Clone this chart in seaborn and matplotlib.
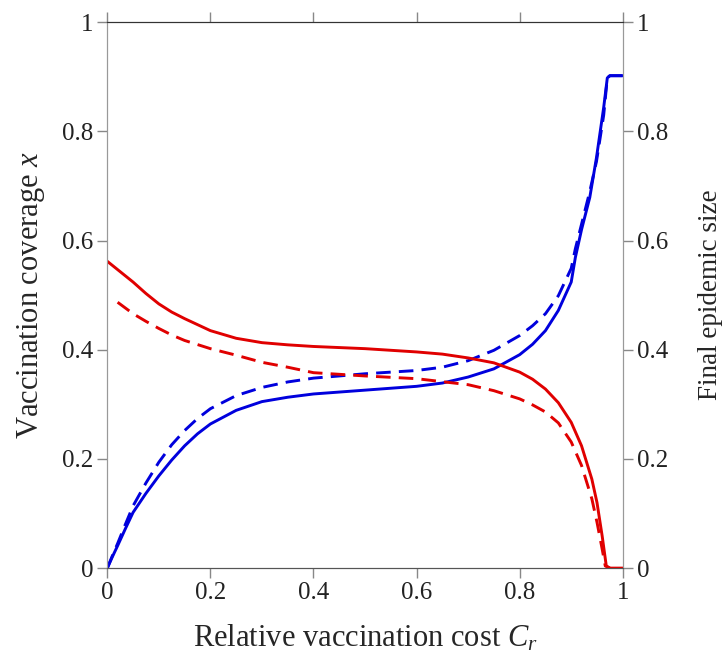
import numpy as np
import pandas as pd
import matplotlib
matplotlib.use("Agg")
import matplotlib.pyplot as plt
import seaborn as sns

# relative vaccination cost C_r (for the coverage curves)
cost = [0.0, 0.01, 0.02, 0.035, 0.05, 0.075, 0.1, 0.125, 0.15, 0.175, 0.2, 0.25, 0.3, 0.35,
        0.4, 0.5, 0.6, 0.65, 0.7, 0.75, 0.8, 0.825, 0.85, 0.875, 0.9, 0.908, 0.92, 0.936,
        0.949, 0.963, 0.97, 0.975, 1.0]

# vaccination coverage, solid and dashed
cov_solid = [0.0, 0.021, 0.041, 0.072, 0.102, 0.137, 0.169, 0.198, 0.224, 0.246, 0.264,
             0.289, 0.305, 0.313, 0.319, 0.326, 0.333, 0.339, 0.350, 0.365, 0.391, 0.410,
             0.435, 0.472, 0.524, 0.569, 0.620, 0.679, 0.752, 0.844, 0.898, 0.902, 0.902]
cov_dash = [0.0, 0.023, 0.045, 0.080, 0.114, 0.156, 0.194, 0.226, 0.252, 0.274, 0.292,
            0.316, 0.331, 0.341, 0.348, 0.356, 0.362, 0.368, 0.380, 0.399, 0.426, 0.444,
            0.466, 0.499, 0.549, 0.585, 0.630, 0.690, 0.745, 0.830, 0.898, 0.902, 0.902]

# final epidemic size, solid
size_cost = [0.0, 0.025, 0.05, 0.075, 0.1, 0.125, 0.15, 0.2, 0.25, 0.3, 0.35, 0.4, 0.5, 0.6,
             0.65, 0.7, 0.75, 0.8, 0.825, 0.85, 0.875, 0.9, 0.92, 0.94, 0.95, 0.96, 0.968,
             0.975, 1.0]
size_solid = [0.562, 0.543, 0.524, 0.503, 0.484, 0.469, 0.457, 0.435, 0.421, 0.413, 0.409,
              0.406, 0.402, 0.396, 0.392, 0.385, 0.376, 0.359, 0.346, 0.328, 0.303, 0.267,
              0.224, 0.163, 0.120, 0.059, 0.004, 0.0, 0.0]

# final epidemic size, dashed
dash_cost = [0.02, 0.05, 0.075, 0.1, 0.125, 0.15, 0.2, 0.25, 0.3, 0.35, 0.4, 0.5, 0.6, 0.7,
             0.75, 0.8, 0.825, 0.85, 0.875, 0.9, 0.92, 0.94, 0.95, 0.96, 0.966, 0.975]
size_dash = [0.487, 0.466, 0.452, 0.439, 0.427, 0.417, 0.402, 0.390, 0.377, 0.368, 0.358,
             0.352, 0.347, 0.336, 0.325, 0.310, 0.299, 0.286, 0.266, 0.231, 0.188, 0.127,
             0.084, 0.035, 0.004, 0.0]

sns.set_style("ticks")
plt.rcParams['font.family'] = ['Liberation Serif', 'DejaVu Serif']
plt.rcParams['mathtext.fontset'] = 'custom'
plt.rcParams['mathtext.rm'] = 'Liberation Serif'
plt.rcParams['mathtext.it'] = 'Liberation Serif:italic'

red = '#e00000'
blue = '#0000dd'
lw = 2.1
dash = (0, (5.0, 2.8))

fig = plt.figure(figsize=(7.25, 6.53), dpi=100)
ax = fig.add_axes([0.148, 0.130, 0.711, 0.836])
ax2 = ax.twinx()

sns.lineplot(x=cost, y=cov_solid, ax=ax, color=blue, lw=lw)
sns.lineplot(x=cost, y=cov_dash, ax=ax, color=blue, lw=lw, linestyle=dash)
sns.lineplot(x=size_cost, y=size_solid, ax=ax2, color=red, lw=lw)
sns.lineplot(x=dash_cost, y=size_dash, ax=ax2, color=red, lw=lw, linestyle=dash)

ticks = [0, 0.2, 0.4, 0.6, 0.8, 1]
labels = ['0', '0.2', '0.4', '0.6', '0.8', '1']
for a in (ax, ax2):
    a.set_xlim(0, 1)
    a.set_ylim(0, 1)
    a.set_yticks(ticks)
    a.set_yticklabels(labels)
    a.tick_params(axis='both', labelsize=18, labelcolor='#222222', length=7, width=1.0,
                  direction='out', pad=3, color='#888888')
ax.set_xticks(ticks)
ax.set_xticklabels(labels)
ax.tick_params(axis='x', top=True)

for a in (ax, ax2):
    a.spines['left'].set_color('#999999')
    a.spines['right'].set_color('#999999')
    a.spines['bottom'].set_color('#555555')
    a.spines['top'].set_color('#333333')

ax.set_xlabel('Relative vaccination cost $C_r$', fontsize=22, labelpad=14)
ax.set_ylabel('Vaccination coverage $x$', fontsize=22, labelpad=11)
ax2.set_ylabel('Final epidemic size', fontsize=19.5, labelpad=22)

fig.savefig('out.png', dpi=100)
